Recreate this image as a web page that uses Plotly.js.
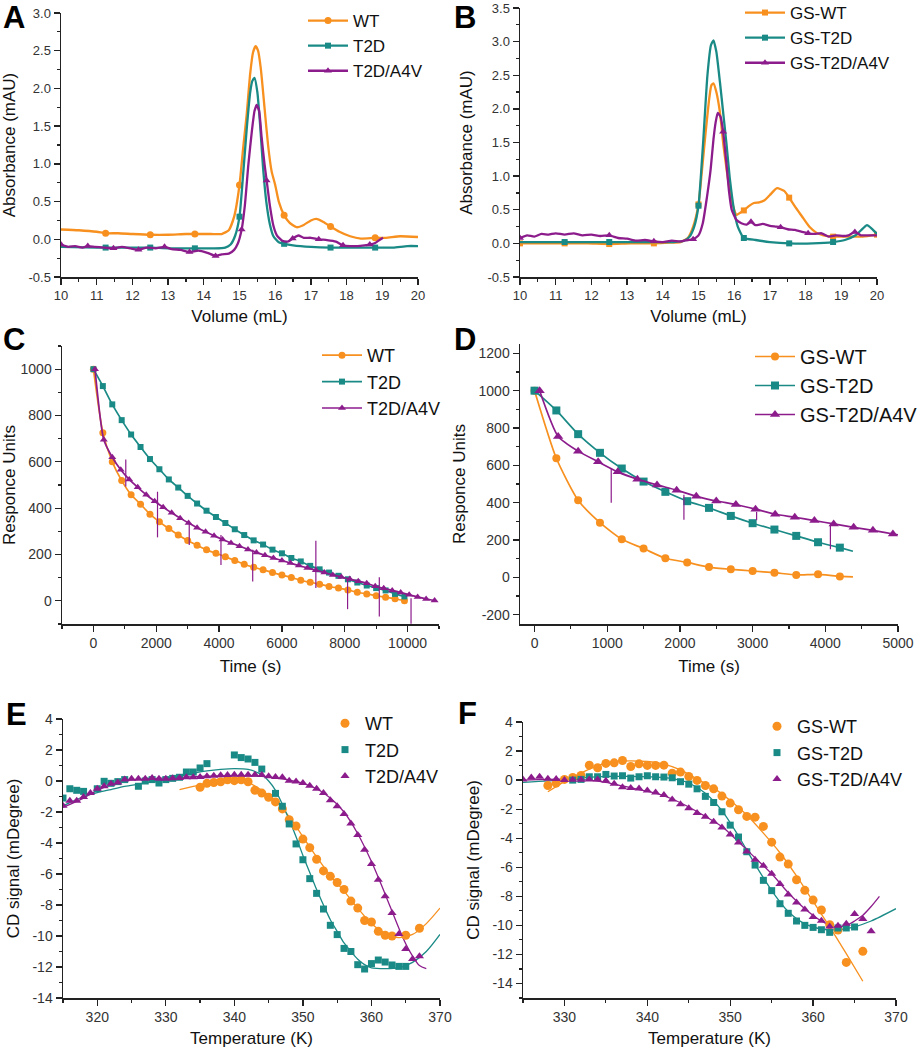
<!DOCTYPE html>
<html>
<head>
<meta charset="utf-8">
<script src="https://cdn.plot.ly/plotly-3.0.1.min.js"></script>
<style>html,body{margin:0;padding:0;background:#fff}</style>
</head>
<body>
<div id="plot" style="width:920px;height:1050px"></div>
<script>
// ---- A: size exclusion, Volume (mL) vs Absorbance (mAU)
const aWtX = [10.0, 10.5, 11.0, 11.25, 11.6, 12.0, 12.5, 13.0, 13.5, 13.75, 14.2, 14.5, 14.7, 14.85, 15.0, 15.1, 15.2, 15.3, 15.38, 15.45, 15.52, 15.6, 15.7, 15.8, 15.9, 16.0, 16.1, 16.25, 16.4, 16.6, 16.8, 17.0, 17.15, 17.35, 17.55, 17.8, 18.1, 18.4, 18.8, 19.1, 19.5, 20.0];
const aWtY = [0.13, 0.12, 0.1, 0.08, 0.08, 0.07, 0.06, 0.06, 0.07, 0.07, 0.07, 0.07, 0.12, 0.3, 0.72, 1.2, 1.65, 2.2, 2.48, 2.56, 2.5, 2.25, 1.75, 1.25, 0.9, 0.72, 0.5, 0.32, 0.22, 0.16, 0.19, 0.25, 0.27, 0.23, 0.17, 0.1, 0.04, 0.01, 0.02, 0.02, 0.04, 0.03];
const aT2dX = [10.0, 11.0, 11.25, 12.0, 12.5, 13.0, 13.75, 14.3, 14.6, 14.75, 14.88, 15.0, 15.1, 15.2, 15.3, 15.36, 15.42, 15.5, 15.58, 15.66, 15.75, 15.85, 15.95, 16.1, 16.25, 16.5, 17.0, 17.55, 18.0, 18.8, 19.3, 19.7, 20.0];
const aT2dY = [-0.1, -0.11, -0.11, -0.11, -0.11, -0.12, -0.12, -0.12, -0.11, -0.07, 0.05, 0.3, 0.85, 1.45, 1.95, 2.1, 2.14, 1.95, 1.5, 0.95, 0.5, 0.2, 0.04, -0.04, -0.06, -0.08, -0.1, -0.11, -0.11, -0.11, -0.11, -0.09, -0.09];
const aA4vX = [10.0, 10.2, 10.4, 10.6, 10.75, 10.95, 11.2, 11.47, 11.7, 11.95, 12.17, 12.4, 12.65, 12.9, 13.1, 13.35, 13.6, 13.85, 14.1, 14.33, 14.5, 14.7, 14.85, 14.95, 15.06, 15.15, 15.25, 15.35, 15.42, 15.48, 15.55, 15.62, 15.7, 15.76, 15.85, 15.95, 16.05, 16.2, 16.35, 16.49, 16.65, 16.8, 17.0, 17.22, 17.45, 17.7, 17.9, 18.1, 18.3, 18.5, 18.65, 18.8, 18.92, 19.02];
const aA4vY = [-0.07, -0.1, -0.09, -0.11, -0.09, -0.1, -0.11, -0.12, -0.1, -0.12, -0.14, -0.11, -0.12, -0.1, -0.13, -0.14, -0.17, -0.15, -0.18, -0.22, -0.2, -0.19, -0.14, -0.06, 0.13, 0.45, 1.0, 1.45, 1.7, 1.78, 1.7, 1.35, 1.0, 0.78, 0.45, 0.18, 0.05, -0.02, -0.03, 0.01, 0.05, 0.02, 0.02, 0.0, -0.01, -0.03, -0.08, -0.09, -0.09, -0.08, -0.07, -0.05, -0.01, 0.02];
const aWtMarks = [11.25, 12.5, 13.75, 15.0, 16.25, 17.55, 18.8];
const aT2dMarks = [11.25, 12.5, 13.75, 15.0, 16.25, 17.55, 18.8];
const aA4vMarks = [10.0, 10.75, 11.47, 12.17, 12.9, 13.6, 14.33, 15.06, 15.76, 16.49, 17.22, 17.9, 18.65];

// ---- B
const bWtX = [10.0, 10.6, 11.25, 11.9, 12.5, 13.1, 13.75, 14.2, 14.5, 14.7, 14.85, 15.0, 15.1, 15.2, 15.3, 15.36, 15.42, 15.5, 15.6, 15.7, 15.8, 15.9, 16.0, 16.06, 16.15, 16.27, 16.4, 16.55, 16.7, 16.85, 17.0, 17.2, 17.4, 17.54, 17.7, 17.9, 18.1, 18.3, 18.5, 18.77, 19.2, 19.6, 20.0];
const bWtY = [0.0, 0.0, 0.0, 0.0, -0.01, 0.0, 0.0, 0.01, 0.02, 0.08, 0.25, 0.58, 1.1, 1.65, 2.15, 2.35, 2.38, 2.25, 1.95, 1.45, 1.05, 0.7, 0.5, 0.42, 0.45, 0.49, 0.55, 0.6, 0.61, 0.64, 0.72, 0.82, 0.78, 0.68, 0.55, 0.4, 0.25, 0.16, 0.12, 0.1, 0.1, 0.1, 0.13];
const bT2dX = [10.0, 11.25, 12.5, 13.75, 14.3, 14.6, 14.75, 14.88, 15.0, 15.13, 15.25, 15.35, 15.42, 15.5, 15.6, 15.7, 15.78, 15.88, 16.0, 16.1, 16.27, 16.6, 17.0, 17.54, 18.2, 18.77, 19.1, 19.4, 19.6, 19.72, 19.85, 20.0];
const bT2dY = [0.02, 0.02, 0.02, 0.02, 0.02, 0.04, 0.1, 0.25, 0.56, 1.5, 2.5, 2.95, 3.02, 2.85, 2.4, 1.9, 1.5, 0.95, 0.48, 0.25, 0.08, 0.05, 0.02, 0.0, 0.0, 0.02, 0.05, 0.12, 0.22, 0.27, 0.22, 0.14];
const bA4vX = [10.0, 10.2, 10.4, 10.6, 10.8, 11.0, 11.25, 11.5, 11.75, 12.0, 12.25, 12.5, 12.75, 13.0, 13.25, 13.5, 13.75, 14.0, 14.25, 14.5, 14.7, 14.85, 15.0, 15.12, 15.24, 15.34, 15.42, 15.48, 15.54, 15.62, 15.69, 15.78, 15.86, 15.93, 16.06, 16.2, 16.35, 16.47, 16.6, 16.8, 17.0, 17.15, 17.3, 17.5, 17.7, 17.9, 18.07, 18.25, 18.45, 18.65, 18.85, 19.05, 19.2, 19.38, 19.55, 19.75, 20.0];
const bA4vY = [0.08, 0.12, 0.1, 0.14, 0.13, 0.15, 0.13, 0.15, 0.12, 0.13, 0.11, 0.12, 0.08, 0.07, 0.04, 0.05, 0.03, 0.02, 0.04, 0.03, 0.05, 0.06, 0.12, 0.3, 0.7, 1.1, 1.55, 1.8, 1.94, 1.88, 1.66, 1.2, 0.75, 0.5, 0.35, 0.3, 0.28, 0.32, 0.27, 0.29, 0.26, 0.25, 0.24, 0.21, 0.2, 0.17, 0.15, 0.14, 0.15, 0.1, 0.12, 0.11, 0.12, 0.17, 0.12, 0.12, 0.12];
const bWtMarks = [10.0, 11.25, 12.5, 13.75, 15.0, 16.27, 17.54, 18.77, 20.0];
const bT2dMarks = [11.25, 12.5, 15.0, 16.27, 17.54, 18.77];
const bA4vMarks = [10.0, 12.5, 13.75, 14.85, 15.69, 16.47, 17.3, 18.07, 19.38];

// ---- C: dissociation, Time (s) vs Responce Units
const cT = [0, 300, 600, 900, 1200, 1500, 1800, 2100, 2400, 2700, 3000, 3300, 3600, 3900, 4200, 4500, 4800, 5100, 5400, 5700, 6000, 6300, 6600, 6900, 7200, 7500, 7800, 8100, 8400, 8700, 9000, 9300, 9600, 9900];
const cWt = [1000, 726, 600, 519, 458, 417, 374, 341, 312, 284, 260, 240, 220, 205, 190, 174, 158, 145, 134, 122, 111, 101, 89, 80, 72, 62, 55, 47, 37, 30, 22, 16, 9, 0];
const cT2d = [1000, 927, 848, 780, 718, 664, 612, 568, 524, 489, 453, 420, 389, 362, 336, 309, 284, 261, 243, 221, 205, 185, 170, 151, 136, 122, 108, 93, 79, 66, 55, 45, 30, 19];
const cA4vT = [50, 330, 600, 870, 1140, 1410, 1680, 1950, 2220, 2490, 2760, 3030, 3300, 3570, 3840, 4110, 4380, 4650, 4920, 5190, 5460, 5730, 6000, 6270, 6540, 6810, 7080, 7350, 7620, 7890, 8160, 8430, 8700, 8970, 9240, 9510, 9780, 10050, 10320, 10590, 10860];
const cA4v = [1000, 695, 620, 566, 524, 490, 458, 430, 404, 380, 357, 336, 316, 298, 281, 265, 250, 236, 222, 209, 197, 185, 174, 163, 152, 142, 132, 122, 112, 103, 94, 85, 76, 63, 54, 45, 36, 26, 17, 8, 1];
const cSpikeT = [1030, 2040, 3050, 4060, 5070, 7080, 8090, 9100, 10110];
const cSpikeLo = [493, 274, 241, 155, 83, 55, -36, -68, -99];
const cSpikeHi = [610, 471, 342, 284, 220, 259, 91, 102, 11];

// ---- D
const dT = [0, 300, 600, 900, 1200, 1500, 1800, 2100, 2400, 2700, 3000, 3300, 3600, 3900, 4200];
const dWt = [1000, 638, 413, 293, 204, 154, 102, 80, 55, 43, 34, 25, 13, 16, 5];
const dT2d = [1000, 894, 767, 667, 583, 513, 458, 408, 372, 329, 290, 256, 222, 188, 159];
const dA4vT = [70, 325, 600, 875, 1145, 1415, 1685, 1955, 2225, 2500, 2770, 3040, 3310, 3580, 3850, 4115, 4390, 4655, 4930];
const dA4v = [1000, 755, 676, 619, 565, 526, 495, 467, 434, 409, 390, 365, 338, 322, 304, 286, 268, 252, 232];
const dWtEnd = [4380, 2];
const dT2dEnd = [4380, 140];
const dA4vEnd = [5000, 228];
const dSpikeT = [1055, 2055, 3055, 4070];
const dSpikeLo = [399, 309, 306, 150];
const dSpikeHi = [583, 443, 350, 284];

// ---- E: CD melting, Temperature (K) vs CD signal (mDegree)
const eWtT = [335, 336, 337, 338, 339, 340, 341, 342, 343, 344, 345, 346, 347, 348, 349, 350, 351, 352, 353, 354, 355, 356, 357, 358, 359, 360, 361, 362, 363, 365, 367];
const eWt = [-0.4, -0.15, -0.1, -0.05, 0.08, 0.02, 0.08, -0.05, -0.6, -0.78, -1.05, -1.35, -1.8, -2.5, -2.9, -3.75, -4.3, -5.05, -5.8, -6.15, -6.55, -7.0, -7.75, -8.2, -9.0, -9.1, -9.7, -9.95, -10.0, -9.95, -9.5];
const eWtFitT = [332, 334, 336, 338, 340, 342, 344, 346, 348, 350, 352, 354, 356, 358, 360, 362, 364, 366, 368, 370];
const eWtFit = [-0.55, -0.35, -0.15, 0.0, 0.05, -0.1, -0.6, -1.3, -2.3, -3.6, -4.9, -6.1, -7.1, -8.2, -9.2, -9.85, -10.1, -9.9, -9.2, -8.2];
const eT2dT = [315, 316, 317, 318, 320, 321, 322, 323, 324, 326, 327, 328, 329, 330, 331, 332, 333, 334, 335, 336, 340, 341, 342, 343, 344, 346, 347, 348, 349, 350, 351, 352, 353, 354, 355, 356, 357, 358, 359, 360, 361, 362, 363, 364, 365];
const eT2d = [-1.1, -0.5, -0.6, -0.67, -0.5, -0.02, -0.15, -0.04, 0.09, -0.34, 0.0, 0.09, -0.13, 0.09, 0.17, 0.24, 0.58, 0.58, 0.84, 1.12, 1.68, 1.51, 1.42, 1.2, 0.77, -0.8, -1.63, -2.77, -4.06, -5.08, -6.3, -7.25, -8.26, -9.31, -9.91, -10.8, -11.0, -11.85, -12.13, -11.78, -11.55, -11.68, -11.87, -11.96, -11.96];
const eT2dFitT = [315, 316, 318, 320, 322, 324, 326, 328, 330, 332, 334, 336, 338, 340, 342, 344, 345, 346, 347, 348, 349, 350, 351, 352, 353, 354, 355, 356, 357, 358, 359, 360, 362, 364, 366, 368, 370];
const eT2dFit = [-1.6, -1.4, -1.0, -0.75, -0.55, -0.35, -0.2, -0.05, 0.1, 0.3, 0.5, 0.65, 0.75, 0.8, 0.75, 0.4, 0.0, -0.6, -1.5, -2.5, -3.6, -4.8, -5.9, -7.0, -8.0, -8.95, -9.7, -10.45, -11.0, -11.5, -11.85, -12.05, -12.1, -12.05, -11.7, -11.0, -9.9];
const eA4vT = [315, 316, 317, 318, 319, 320, 321, 322, 323, 324, 325, 326, 327, 328, 329, 330, 331, 332, 333, 334, 335, 336, 337, 338, 339, 340, 341, 342, 343, 344, 345, 346, 347, 348, 349, 350, 351, 352, 353, 354, 355, 356, 357, 358, 359, 360, 361, 362, 363, 364, 365, 366, 367];
const eA4v = [-1.6, -1.27, -1.27, -1.03, -0.77, -0.5, -0.34, -0.17, -0.09, 0.09, 0.15, 0.15, 0.15, 0.19, 0.15, 0.15, 0.17, 0.19, 0.24, 0.24, 0.26, 0.3, 0.34, 0.37, 0.39, 0.41, 0.41, 0.41, 0.41, 0.39, 0.3, 0.26, 0.24, 0.02, -0.04, -0.13, -0.3, -0.5, -0.77, -1.25, -1.63, -2.13, -2.75, -3.48, -4.43, -5.35, -6.37, -7.44, -8.52, -9.87, -10.84, -11.48, -11.31];
const eA4vFitT = [315, 318, 320, 322, 324, 326, 330, 335, 340, 344, 346, 348, 350, 352, 354, 356, 358, 360, 362, 364, 365, 366, 367, 368];
const eA4vFit = [-1.7, -1.1, -0.6, -0.25, 0.0, 0.1, 0.2, 0.3, 0.35, 0.3, 0.2, 0.05, -0.15, -0.5, -1.1, -2.0, -3.4, -5.2, -7.3, -9.5, -10.5, -11.3, -11.9, -12.1];

// ---- F
const fWtT = [328, 329, 330, 331, 332, 333, 334, 335, 336, 337, 338, 339, 340, 341, 342, 343, 344, 345, 346, 347, 348, 349, 350, 351, 352, 353, 354, 355, 356, 357, 358, 359, 360, 361, 362, 363, 364, 366];
const fWt = [-0.37, -0.21, 0.05, 0.18, 0.32, 1.03, 0.85, 1.15, 1.19, 1.35, 0.94, 1.12, 1.01, 1.01, 1.03, 0.48, 0.55, 0.25, -0.02, -0.37, -0.6, -1.1, -1.58, -2.04, -2.5, -2.55, -3.19, -4.27, -5.3, -5.78, -6.86, -7.59, -8.26, -8.94, -9.95, -10.32, -12.55, -11.79];
const fWtFitT = [328, 330, 332, 334, 336, 338, 340, 342, 344, 346, 348, 350, 352, 354, 356, 358, 360, 362, 364, 366];
const fWtFit = [-0.8, -0.1, 0.48, 1.0, 1.28, 1.33, 1.28, 1.1, 0.7, 0.07, -0.55, -1.4, -2.4, -3.65, -5.0, -6.6, -8.35, -10.1, -11.95, -13.85];
const fT2dT = [331, 332, 333, 334, 335, 336, 337, 338, 339, 340, 341, 342, 343, 344, 345, 346, 347, 348, 349, 350, 351, 352, 353, 354, 355, 356, 357, 358, 359, 360, 361, 362, 363, 364, 365];
const fT2d = [0.0, 0.05, 0.23, 0.23, 0.39, 0.28, 0.3, 0.14, 0.23, 0.3, 0.23, 0.21, 0.16, -0.11, -0.28, -0.6, -1.12, -1.54, -2.18, -3.1, -3.92, -4.93, -5.85, -6.9, -7.61, -8.51, -9.17, -9.7, -10.0, -10.14, -10.3, -10.48, -10.18, -10.18, -10.11];
const fT2dFitT = [325, 328, 330, 332, 335, 338, 341, 343, 345, 347, 349, 351, 353, 355, 357, 359, 361, 363, 365, 367, 370];
const fT2dFit = [-0.15, -0.05, 0.05, 0.15, 0.25, 0.25, 0.2, 0.1, -0.2, -0.9, -2.1, -3.85, -5.8, -7.6, -9.05, -9.9, -10.25, -10.3, -10.1, -9.7, -8.85];
const fA4vT = [325, 326, 327, 328, 329, 330, 331, 332, 333, 334, 335, 336, 337, 338, 339, 340, 341, 342, 343, 344, 345, 346, 347, 348, 349, 350, 351, 352, 353, 354, 355, 356, 357, 358, 359, 360, 361, 362, 363, 364, 365, 366, 367];
const fA4v = [0.05, 0.18, 0.23, 0.09, 0.07, 0.0, 0.02, 0.02, 0.05, 0.05, -0.05, -0.25, -0.5, -0.55, -0.57, -0.71, -0.85, -1.03, -1.33, -1.67, -1.93, -2.27, -2.52, -2.87, -3.26, -3.74, -4.29, -4.91, -5.48, -5.89, -6.44, -7.16, -7.87, -8.42, -8.9, -9.43, -9.68, -10.07, -10.02, -9.89, -9.22, -9.56, -10.41];
const fA4vFitT = [325, 328, 331, 333, 335, 337, 339, 341, 343, 345, 347, 349, 351, 353, 355, 357, 359, 361, 362.5, 364, 365, 366, 367, 368];
const fA4vFit = [0.0, 0.05, 0.05, 0.0, -0.15, -0.4, -0.65, -0.9, -1.3, -1.85, -2.5, -3.2, -4.25, -5.35, -6.45, -7.75, -8.85, -9.7, -10.1, -10.0, -9.7, -9.3, -8.7, -8.0];

// tick values
const volTicks = [10, 11, 12, 13, 14, 15, 16, 17, 18, 19, 20];
const absTicksA = [-0.5, 0, 0.5, 1.0, 1.5, 2.0, 2.5, 3.0];
const absTicksB = [-0.5, 0, 0.5, 1.0, 1.5, 2.0, 2.5, 3.0, 3.5];
const timeTicksC = [0, 2000, 4000, 6000, 8000, 10000];
const respTicksC = [0, 200, 400, 600, 800, 1000];
const timeTicksD = [0, 1000, 2000, 3000, 4000, 5000];
const respTicksD = [-200, 0, 200, 400, 600, 800, 1000, 1200];
const tempTicksE = [320, 330, 340, 350, 360, 370];
const tempTicksF = [330, 340, 350, 360, 370];
const cdTicks = [-14, -12, -10, -8, -6, -4, -2, 0, 2, 4];

const ORANGE = "#F7901E", TEAL = "#1A8A86", PURPLE = "#8C1C8C";
const FONT = "Liberation Sans, Arial, sans-serif";
const W = 920, H = 1050;

function ax(id) {
  return { xaxis: "x" + id, yaxis: "y" + id };
}

// line with markers only at some of its points (chromatograms)
function sparseSeries(id, leg, xs, ys, at, color, symbol, size, name) {
  const mx = [], my = [];
  at.forEach(v => {
    const i = xs.indexOf(v);
    if (i >= 0) { mx.push(xs[i]); my.push(ys[i]); }
  });
  return [
    { ...ax(id), x: xs, y: ys, mode: "lines", line: { color, width: 2.3, shape: "spline", smoothing: 0.5 }, showlegend: false },
    { ...ax(id), x: mx, y: my, mode: "markers", marker: { color, symbol, size }, showlegend: false },
    { ...ax(id), x: [null], y: [null], mode: "lines+markers", name, legend: leg, line: { color, width: 2.3 }, marker: { color, symbol, size } }
  ];
}

function denseSeries(id, leg, xs, ys, color, symbol, size, name) {
  return { ...ax(id), x: xs, y: ys, mode: "lines+markers", name, legend: leg,
    line: { color, width: 1.7, shape: "spline", smoothing: 0.6 }, marker: { color, symbol, size } };
}

function tail(id, xs, ys, end, color) {
  return { ...ax(id), x: [xs[xs.length - 1], end[0]], y: [ys[ys.length - 1], end[1]], mode: "lines",
    line: { color, width: 1.7 }, showlegend: false };
}

function spikes(id, ts, lo, hi, color) {
  return { ...ax(id), x: ts.flatMap(t => [t, t, null]), y: ts.flatMap((t, i) => [lo[i], hi[i], null]),
    mode: "lines", line: { color, width: 1.2 }, showlegend: false };
}

function dots(id, leg, xs, ys, color, symbol, size, name) {
  return { ...ax(id), x: xs, y: ys, mode: "markers", name, legend: leg, marker: { color, symbol, size } };
}

function fit(id, xs, ys, color) {
  return { ...ax(id), x: xs, y: ys, mode: "lines", line: { color, width: 1.3, shape: "spline", smoothing: 0.8 }, showlegend: false };
}

const traces = [
  ...sparseSeries("", "legend", aWtX, aWtY, aWtMarks, ORANGE, "circle", 7, "WT"),
  ...sparseSeries("", "legend", aT2dX, aT2dY, aT2dMarks, TEAL, "square", 6, "T2D"),
  ...sparseSeries("", "legend", aA4vX, aA4vY, aA4vMarks, PURPLE, "triangle-up", 7, "T2D/A4V"),

  ...sparseSeries("2", "legend2", bWtX, bWtY, bWtMarks, ORANGE, "square", 6, "GS-WT"),
  ...sparseSeries("2", "legend2", bT2dX, bT2dY, bT2dMarks, TEAL, "square", 6, "GS-T2D"),
  ...sparseSeries("2", "legend2", bA4vX, bA4vY, bA4vMarks, PURPLE, "triangle-up", 7, "GS-T2D/A4V"),

  denseSeries("3", "legend3", cT, cWt, ORANGE, "circle", 7, "WT"),
  denseSeries("3", "legend3", cT, cT2d, TEAL, "square", 6, "T2D"),
  denseSeries("3", "legend3", cA4vT, cA4v, PURPLE, "triangle-up", 7, "T2D/A4V"),
  spikes("3", cSpikeT, cSpikeLo, cSpikeHi, PURPLE),

  tail("4", dT, dWt, dWtEnd, ORANGE),
  tail("4", dT, dT2d, dT2dEnd, TEAL),
  tail("4", dA4vT, dA4v, dA4vEnd, PURPLE),
  denseSeries("4", "legend4", dT, dWt, ORANGE, "circle", 8, "GS-WT"),
  denseSeries("4", "legend4", dT, dT2d, TEAL, "square", 8, "GS-T2D"),
  denseSeries("4", "legend4", dA4vT, dA4v, PURPLE, "triangle-up", 9, "GS-T2D/A4V"),
  spikes("4", dSpikeT, dSpikeLo, dSpikeHi, PURPLE),

  fit("5", eWtFitT, eWtFit, ORANGE),
  fit("5", eT2dFitT, eT2dFit, TEAL),
  fit("5", eA4vFitT, eA4vFit, PURPLE),
  dots("5", "legend5", eWtT, eWt, ORANGE, "circle", 9, "WT"),
  dots("5", "legend5", eT2dT, eT2d, TEAL, "square", 7, "T2D"),
  dots("5", "legend5", eA4vT, eA4v, PURPLE, "triangle-up", 8, "T2D/A4V"),

  fit("6", fWtFitT, fWtFit, ORANGE),
  fit("6", fT2dFitT, fT2dFit, TEAL),
  fit("6", fA4vFitT, fA4vFit, PURPLE),
  dots("6", "legend6", fWtT, fWt, ORANGE, "circle", 9, "GS-WT"),
  dots("6", "legend6", fT2dT, fT2d, TEAL, "square", 7, "GS-T2D"),
  dots("6", "legend6", fA4vT, fA4v, PURPLE, "triangle-up", 8, "GS-T2D/A4V")
];
traces.forEach(t => { t.hoverinfo = "skip"; });

// pixel box -> paper domain
const dx = (l, r) => [l / W, r / W];
const dy = (t, b) => [1 - b / H, 1 - t / H];

function axis(opts) {
  const { range, domain, anchor, ticks, dec, minor, title, size, standoff } = opts;
  return {
    range, domain, anchor,
    tickmode: "array", tickvals: ticks, ticktext: ticks.map(v => v.toFixed(dec)),
    ticks: "outside", ticklen: 6, tickwidth: 1.3, tickcolor: "#222",
    minor: { tickmode: "linear", tick0: ticks[0], dtick: minor, ticks: "outside", ticklen: 3, tickwidth: 1.2, tickcolor: "#222" },
    showline: true, linecolor: "#222", linewidth: 1.5,
    showgrid: false, zeroline: false, fixedrange: true,
    tickfont: { family: FONT, size: size, color: "#333" },
    title: { text: title, font: { family: FONT, size: 17, color: "#111" }, standoff }
  };
}

// left = where the entry symbol area starts, top = top of the legend box (px)
function legend(left, top, size, symbolWidth) {
  return { x: left / W, y: 1 - top / H, xanchor: "left", yanchor: "top", bgcolor: "rgba(0,0,0,0)",
    font: { family: FONT, size, color: "#111" }, tracegroupgap: 0, itemwidth: symbolWidth };
}

function letter(text, x, y) {
  return { text: "<b>" + text + "</b>", x: x / W, y: 1 - y / H, xref: "paper", yref: "paper",
    xanchor: "center", yanchor: "middle", showarrow: false, font: { family: FONT, size: 31, color: "#000" } };
}

const layout = {
  width: W, height: H,
  margin: { l: 0, r: 0, t: 0, b: 0, autoexpand: false },
  paper_bgcolor: "#fff", plot_bgcolor: "rgba(0,0,0,0)",
  font: { family: FONT },
  xaxis: axis({ range: [10, 20], domain: dx(61, 418), anchor: "y", ticks: volTicks, dec: 0, minor: 0.5, title: "Volume (mL)", size: 13, standoff: 8 }),
  yaxis: axis({ range: [-0.5, 3.0], domain: dy(13, 277), anchor: "x", ticks: absTicksA, dec: 1, minor: 0.25, title: "Absorbance (mAU)", size: 13, standoff: 10 }),
  xaxis2: axis({ range: [10, 20], domain: dx(520, 877), anchor: "y2", ticks: volTicks, dec: 0, minor: 0.5, title: "Volume (mL)", size: 13, standoff: 8 }),
  yaxis2: axis({ range: [-0.5, 3.5], domain: dy(8, 277), anchor: "x2", ticks: absTicksB, dec: 1, minor: 0.25, title: "Absorbance (mAU)", size: 13, standoff: 10 }),
  xaxis3: axis({ range: [-1000, 11000], domain: dx(62, 439), anchor: "y3", ticks: timeTicksC, dec: 0, minor: 1000, title: "Time (s)", size: 14, standoff: 10 }),
  yaxis3: axis({ range: [-100, 1100], domain: dy(346, 624), anchor: "x3", ticks: respTicksC, dec: 0, minor: 100, title: "Responce Units", size: 14, standoff: 5 }),
  xaxis4: axis({ range: [-200, 5000], domain: dx(520, 898), anchor: "y4", ticks: timeTicksD, dec: 0, minor: 500, title: "Time (s)", size: 14, standoff: 10 }),
  yaxis4: axis({ range: [-250, 1250], domain: dy(344, 624), anchor: "x4", ticks: respTicksD, dec: 0, minor: 100, title: "Responce Units", size: 14, standoff: 8 }),
  xaxis5: axis({ range: [315, 370], domain: dx(63, 440), anchor: "y5", ticks: tempTicksE, dec: 0, minor: 5, title: "Temperature (K)", size: 14, standoff: 8 }),
  yaxis5: axis({ range: [-14, 4], domain: dy(719, 998), anchor: "x5", ticks: cdTicks, dec: 0, minor: 1, title: "CD signal (mDegree)", size: 14, standoff: 8 }),
  xaxis6: axis({ range: [325, 370], domain: dx(523, 896), anchor: "y6", ticks: tempTicksF, dec: 0, minor: 5, title: "Temperature (K)", size: 14, standoff: 8 }),
  yaxis6: axis({ range: [-15, 4], domain: dy(722, 998), anchor: "x6", ticks: cdTicks, dec: 0, minor: 1, title: "CD signal (mDegree)", size: 14, standoff: 8 }),
  legend: legend(303, 3, 17, 40),
  legend2: legend(740, -5, 17, 40),
  legend3: legend(317, 337, 18, 40),
  legend4: legend(750, 337, 20, 40),
  legend5: legend(325, 705, 18, 30),
  legend6: legend(757, 708, 18, 30),
  annotations: [
    letter("A", 14, 18), letter("B", 465, 17), letter("C", 14, 339),
    letter("D", 465, 339), letter("E", 16, 714), letter("F", 468, 713)
  ]
};

Plotly.newPlot("plot", traces, layout, { staticPlot: true });
</script>
</body>
</html>
